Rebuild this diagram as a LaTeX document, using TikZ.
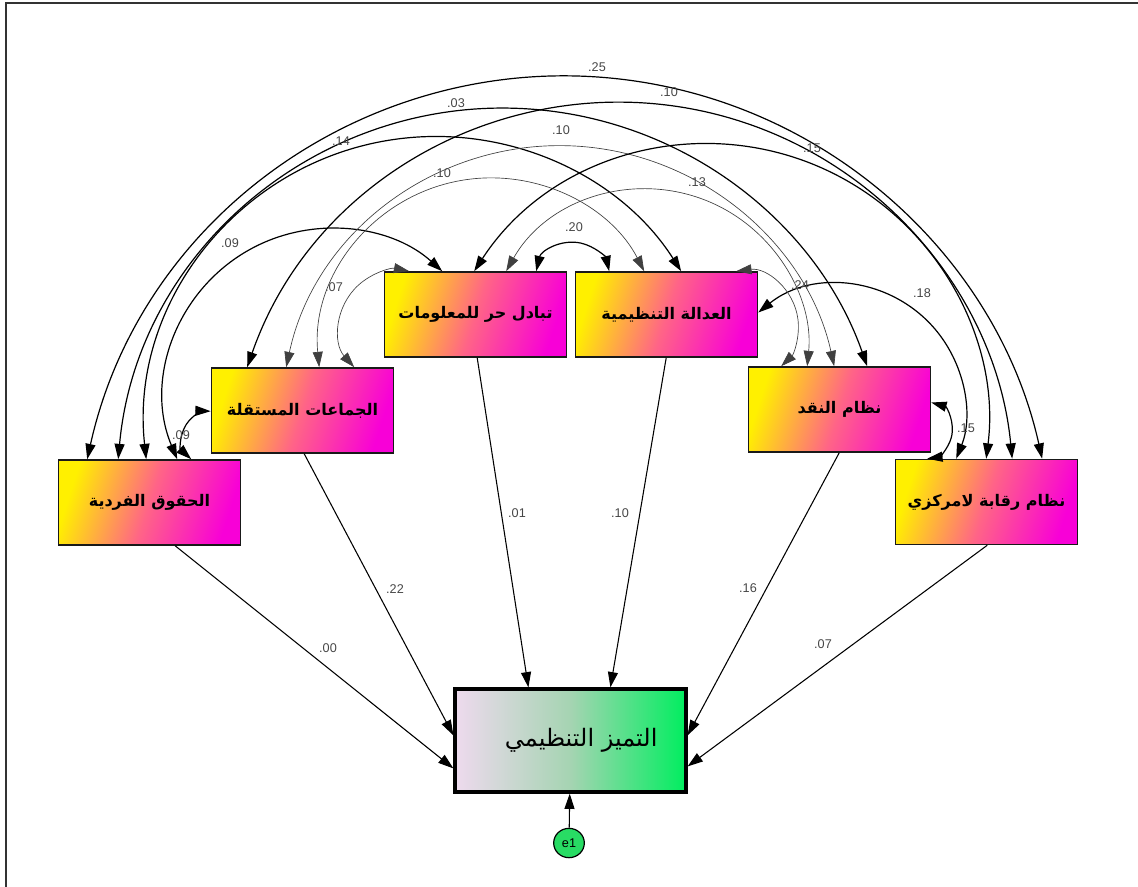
\documentclass[tikz,border=0pt]{standalone}
\usepackage{fontspec}
\setmainfont{Liberation Sans}
\newfontfamily\arabicfont[Script=Arabic]{DejaVu Sans}
\TeXXeTstate=1
\usetikzlibrary{arrows.meta,calc,shapes.geometric}
\definecolor{boxl}{RGB}{255,240,0}
\definecolor{boxm}{RGB}{255,100,135}
\definecolor{boxr}{RGB}{248,0,215}
\definecolor{yl}{RGB}{238,218,238}
\definecolor{ym}{RGB}{165,212,178}
\definecolor{yr}{RGB}{0,238,95}
\definecolor{egreen}{RGB}{40,220,100}
\definecolor{lblgray}{RGB}{70,70,70}
% circular covariance arc from #2 to #3 (clockwise), sagitta #4 in px
\newcommand{\covarc}[4][]{%
  \draw[covline,#1] let \p1=(#2), \p2=(#3),
    \n1={veclen((\x2-\x1)/100,(\y2-\y1)/100)*50},
    \n2={#4*0.75},
    \n3={0.5*(\n1*(\n1/\n2)-\n2)},
    \n4={(\x1+\x2)/2+\n3*((\y2-\y1)/(2*\n1))},
    \n5={(\y1+\y2)/2-\n3*((\x2-\x1)/(2*\n1))},
    \n6={veclen((\x1-\n4)/100,(\y1-\n5)/100)*100},
    \n7={atan2(\y1-\n5,\x1-\n4)},
    \n8={atan2(\y2-\n5,\x2-\n4)},
    \n9={(\n7<\n8) ? (\n7+360) : (\n7)}
  in (#2) arc[start angle=\n9, end angle=\n8, radius={\n6+0pt}];}
\begin{document}
\begin{tikzpicture}[x=0.75pt,y=-0.75pt,
  amos/.tip={Triangle[length=11.5pt,width=7.5pt]},
  var/.style={draw=black!90,line width=1.2pt,minimum width=136.5pt,minimum height=63.75pt,inner sep=0pt,
    left color=boxl,right color=boxr,middle color=boxm,shading angle=72,
    font=\arabicfont\bfseries\fontsize{12}{14}\selectfont},
  dv/.style={draw=black,line width=2.4pt,minimum width=173.25pt,minimum height=77.25pt,inner sep=0pt,
    left color=yl,right color=yr,middle color=ym,font=\arabicfont\fontsize{18}{21}\selectfont},
  err/.style={ellipse,draw=black,line width=0.9pt,fill=egreen,minimum width=23pt,minimum height=22pt,
    inner sep=0pt,font=\fontsize{9.5}{10}\selectfont},
  covline/.style={line width=0.9pt,amos-amos},
  lite/.style={line width=0.5pt,draw=black!75},
  regpath/.style={line width=0.8pt,-amos},
  lbl/.style={font=\fontsize{9.5}{11}\selectfont,text=lblgray,inner sep=1pt}]
\useasboundingbox (0,0) rectangle (1138,887);
\draw[line width=1.5pt,black!80] (6,887) -- (6,3) -- (1138,3);
% observed variables
\node[var] (A) at (149.5,502.5) {\beginR الحقوق الفردية\endR};
\node[var] (B) at (302.5,410.5) {\beginR الجماعات المستقلة\endR};
\node[var] (C) at (475.5,314.5) {\beginR تبادل حر للمعلومات\endR};
\node[var] (D) at (666.5,314.5) {\beginR العدالة التنظيمية\endR};
\node[var] (E) at (839.5,409.5) {\beginR نظام النقد\endR};
\node[var] (F) at (986.5,502) {\beginR نظام رقابة لامركزي\endR};
\node[dv] (Y) at (570.5,740.5) {\hspace*{16pt}\beginR التميز التنظيمي\endR};
\node[err] (e1) at (569,843) {e1};
% attachment points
\coordinate (aF) at ($(A.north west)+(29.5,0)$);
\coordinate (aE) at ($(A.north west)+(60.5,0)$);
\coordinate (aD) at ($(A.north west)+(88.5,0)$);
\coordinate (aC) at ($(A.north west)+(119.5,0)$);
\coordinate (aB) at ($(A.north west)+(133.5,0)$);
\coordinate (bA) at ($(B.north west)+(0,44)$);
\coordinate (bF) at ($(B.north west)+(36.5,0)$);
\coordinate (bE) at ($(B.north west)+(75.5,0)$);
\coordinate (bD) at ($(B.north west)+(108.5,0)$);
\coordinate (bC) at ($(B.north west)+(143.5,0)$);
\coordinate (cB) at ($(C.north west)+(25.5,0)$);
\coordinate (cA) at ($(C.north west)+(58.5,0)$);
\coordinate (cF) at ($(C.north west)+(90.5,0)$);
\coordinate (cE) at ($(C.north west)+(122.5,0)$);
\coordinate (cD) at ($(C.north west)+(152.5,0)$);
\coordinate (dC) at ($(D.north west)+(34.5,0)$);
\coordinate (dB) at ($(D.north west)+(69.5,0)$);
\coordinate (dA) at ($(D.north west)+(106.5,0)$);
\coordinate (dE) at ($(D.north west)+(161.5,0)$);
\coordinate (dF) at ($(D.east)+(0,-2)$);
\coordinate (eD) at ($(E.north west)+(33.5,0)$);
\coordinate (eC) at ($(E.north west)+(59.5,0)$);
\coordinate (eB) at ($(E.north west)+(86.5,0)$);
\coordinate (eA) at ($(E.north west)+(119.5,0)$);
\coordinate (eF) at ($(E.east)+(0,-7)$);
\coordinate (fE) at ($(F.north west)+(32.5,0)$);
\coordinate (fD) at ($(F.north west)+(61.5,0)$);
\coordinate (fC) at ($(F.north west)+(91.5,0)$);
\coordinate (fB) at ($(F.north west)+(117.5,0)$);
\coordinate (fA) at ($(F.north west)+(147.5,0)$);
\coordinate (sA) at ($(A.south west)+(117.5,0)$);
\coordinate (sB) at ($(B.south west)+(93.5,0)$);
\coordinate (sC) at ($(C.south west)+(93.5,0)$);
\coordinate (sD) at ($(D.south west)+(91.5,0)$);
\coordinate (sE) at ($(E.south west)+(91.5,0)$);
\coordinate (sF) at ($(F.south west)+(92.5,0)$);
\coordinate (yA) at ($(Y.north west)+(0,81)$);
\coordinate (yB) at ($(Y.north west)+(0,48)$);
\coordinate (yC) at ($(Y.north west)+(75,0)$);
\coordinate (yD) at ($(Y.north west)+(157,0)$);
\coordinate (yE) at ($(Y.north east)+(0,48)$);
\coordinate (yF) at ($(Y.north east)+(0,79)$);
% covariances
\covarc{aF}{fA}{383}
\covarc{aE}{eA}{304}
\covarc{aD}{dA}{225}
\covarc{aC}{cA}{130}
\covarc{aB}{bA}{18}
\covarc{bF}{fB}{310}
\covarc[lite]{bE}{eB}{221}
\covarc[lite]{bD}{dB}{140}
\covarc[lite]{bC}{cB}{40}
\covarc{cF}{fC}{217}
\covarc[lite]{cE}{eC}{128}
\covarc{cD}{dC}{29}
\covarc{dF}{fD}{95}
\covarc[lite]{dE}{eD}{38}
\covarc{eF}{fE}{23}
% covariance labels
\node[lbl] (kAF) at (597,67) {.25};
\node[lbl] (kAE) at (456,103) {.03};
\node[lbl] (kAD) at (341,141) {.14};
\node[lbl] (kAC) at (230,243) {.09};
\node[lbl] (kAB) at (181,435) {.09};
\node[lbl] (kBF) at (669,92) {.10};
\node[lbl] (kBE) at (561,130) {.10};
\node[lbl] (kBD) at (442,173) {.10};
\node[lbl] (kBC) at (334,287) {.07};
\node[lbl] (kCF) at (812,148) {.15};
\node[lbl] (kCE) at (697,182) {.13};
\node[lbl] (kCD) at (574,227) {.20};
\node[lbl] (kDF) at (922,293) {.18};
\node[lbl] (kDE) at (800,285) {.24};
\node[lbl] (kEF) at (966,428) {.15};
% regressions
\draw[regpath] (sA) -- (yA);
\draw[regpath] (sB) -- (yB);
\draw[regpath] (sC) -- (yC);
\draw[regpath] (sD) -- (yD);
\draw[regpath] (sE) -- (yE);
\draw[regpath] (sF) -- (yF);
\draw[regpath] (e1) -- (Y);
\node[lbl] (rA) at (328,648) {.00};
\node[lbl] (rB) at (395,589) {.22};
\node[lbl] (rC) at (517,513) {.01};
\node[lbl] (rD) at (620,513) {.10};
\node[lbl] (rE) at (748,588) {.16};
\node[lbl] (rF) at (823,644) {.07};
\end{tikzpicture}
\end{document}
